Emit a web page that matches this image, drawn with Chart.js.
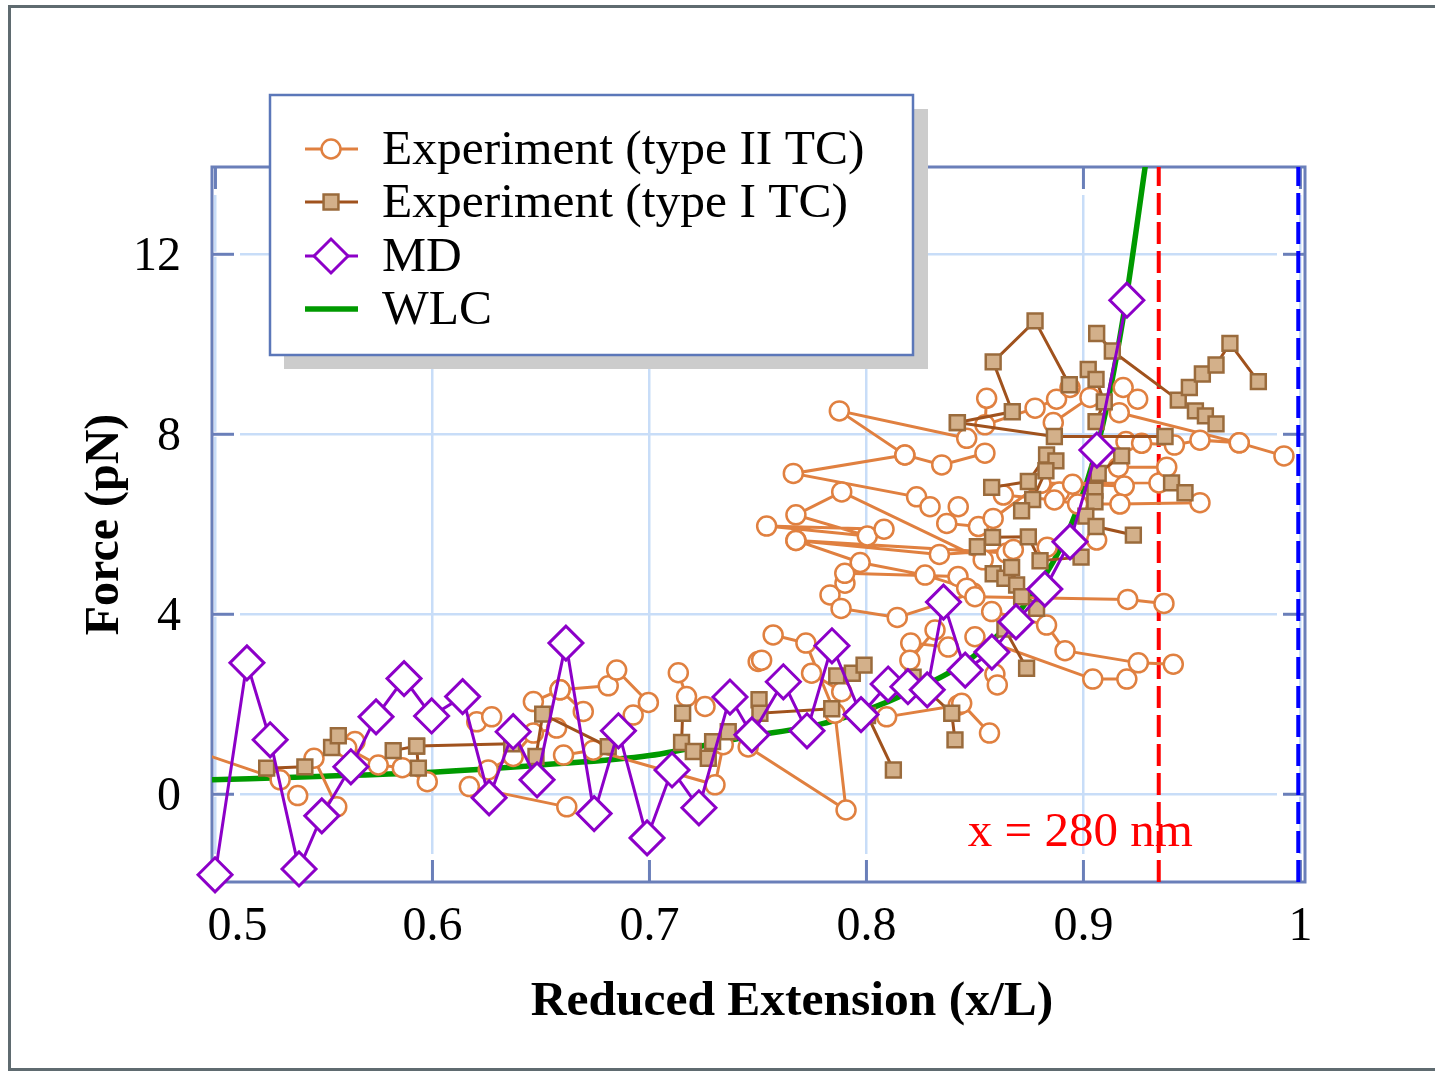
<!DOCTYPE html>
<html><head><meta charset="utf-8">
<script src="https://cdn.jsdelivr.net/npm/chart.js"></script>
<style>html,body{margin:0;padding:0;background:#fff;}canvas{display:block;}</style>
</head><body>
<canvas id="c" width="1435" height="1073"></canvas>
<script>
// ---------- DATA ----------
const seriesNames = ['Experiment (type II TC)', 'Experiment (type I TC)', 'MD', 'WLC'];
const xTicks = [0.5, 0.6, 0.7, 0.8, 0.9, 1.0];
const xTickLabels = ['0.5', '0.6', '0.7', '0.8', '0.9', '1'];
const yTicks = [0, 4, 8, 12];
const yTickLabels = ['0', '4', '8', '12'];
const xTitle = 'Reduced Extension (x/L)';
const yTitle = 'Force (pN)';
const markerText = 'x = 280 nm';
const markerX = 0.9347;     // red dashed line (x = 280 nm)
const contourX = 0.999;     // blue dashed line (x/L = 1)

// type II TC experiment traces (null = break between traces)
const expII = [
  [0.49,0.97],[0.5298,0.32], null,
  [0.5379,-0.03], null,
  [0.5454,0.8],[0.5559,-0.28], null,
  [0.5643,1.17],[0.5605,1.03],[0.575,0.65],[0.5861,0.59],[0.5976,0.28], null,
  [0.6204,1.61],[0.6273,1.72], null,
  [0.617,0.17],[0.6619,-0.28], null,
  [0.6257,0.54],[0.6372,0.84],[0.6465,1.36],[0.6572,1.47], null,
  [0.6465,2.06],[0.6588,2.32],[0.6695,1.84], null,
  [0.6588,2.32],[0.681,2.41], null,
  [0.6604,0.87],[0.6741,0.98],[0.7302,0.21],[0.734,1.1], null,
  [0.6849,2.76],[0.6995,2.04],[0.6925,1.76], null,
  [0.7133,2.7],[0.7171,2.17],[0.7256,1.95], null,
  [0.7501,2.95], null,
  [0.757,3.54],[0.7721,3.36],[0.7855,1.8], null,
  [0.7517,2.98], null,
  [0.7747,2.69],[0.7886,2.28], null,
  [0.7455,1.05],[0.7906,-0.35],[0.7855,1.8], null,
  [0.7832,4.43],[0.7901,4.69], null,
  [0.79,4.91],[0.8422,4.84], null,
  [0.7883,4.13],[0.8142,3.93],[0.8492,4.47], null,
  [0.8204,3.36],[0.8377,3.27], null,
  [0.82,2.98],[0.8316,3.65], null,
  [0.8093,1.72],[0.8423,1.98], null,
  [0.8462,7.91],[0.7875,8.52],[0.8177,7.54],[0.8347,7.32],[0.8546,7.58], null,
  [0.8177,7.54],[0.7663,7.13],[0.8231,6.61],[0.8293,6.39], null,
  [0.8423,6.39],[0.837,6.02],[0.8516,5.95], null,
  [0.8538,5.21],[0.7886,6.72],[0.7675,6.21],[0.8004,5.74],[0.754,5.96],[0.8081,5.89], null,
  [0.8646,5.36],[0.7675,5.64],[0.7971,5.15],[0.827,4.87],[0.8462,4.58], null,
  [0.7675,5.64],[0.8336,5.33],[0.8677,5.44], null,
  [0.8554,8.8],[0.8546,8.21],[0.8777,8.58],[0.8876,8.78],[0.8938,9.04], null,
  [0.8861,8.26],[0.903,8.82], null,
  [0.9183,9.04],[0.925,8.78], null,
  [0.9165,8.48],[0.9718,7.81],[0.9924,7.52], null,
  [0.9196,7.84],[0.9268,7.8],[0.9419,7.76],[0.9537,7.87],[0.9718,7.81], null,
  [0.8584,6.13],[0.8804,6.91],[0.9348,6.92],[0.9384,7.27],[0.9161,7.27], null,
  [0.8889,6.72],[0.895,6.89],[0.9188,6.85], null,
  [0.8631,6.65],[0.8866,6.54],[0.8973,6.45],[0.9168,6.45],[0.9537,6.48], null,
  [0.8833,5.49],[0.9061,5.65], null,
  [0.85,4.39],[0.9204,4.33],[0.9371,4.24], null,
  [0.8577,4.06],[0.883,3.76],[0.8915,3.19],[0.9253,2.92],[0.9414,2.89], null,
  [0.85,3.5],[0.9043,2.56],[0.92,2.56], null,
  [0.8592,2.67],[0.8603,2.43], null,
  [0.8439,2.02],[0.8567,1.36]
];

// type I TC experiment traces
const expI = [
  [0.5236,0.58],[0.5412,0.61], null,
  [0.5535,1.04],[0.5566,1.3], null,
  [0.5819,0.97],[0.5927,1.07],[0.6365,1.12], null,
  [0.5935,0.58],[0.5927,1.07], null,
  [0.6477,0.84],[0.6508,1.78],[0.681,1.06], null,
  [0.7153,1.8],[0.7148,1.15],[0.7202,0.95],[0.7271,0.8],[0.7291,1.17],[0.7363,1.39], null,
  [0.7505,2.1],[0.7509,1.8],[0.784,1.9], null,
  [0.7863,2.63],[0.7935,2.69],[0.7989,2.87], null,
  [0.8005,1.75],[0.8124,0.54], null,
  [0.8215,2.6],[0.8393,1.8],[0.8408,1.21], null,
  [0.8638,3.67],[0.8738,2.8], null,
  [0.8419,8.26],[0.8672,8.5],[0.8584,9.61],[0.8777,10.52],[0.8935,9.1], null,
  [0.8419,8.26],[0.8866,7.95],[0.9376,7.95], null,
  [0.9061,10.24],[0.9133,9.85],[0.9437,8.76],[0.9488,9.04],[0.9548,9.34],[0.9611,9.54],[0.9675,10.02],[0.9806,9.17], null,
  [0.9022,9.44],[0.9058,9.22],[0.9096,8.72],[0.9058,8.28], null,
  [0.9516,8.52],[0.9562,8.41],[0.9611,8.23], null,
  [0.8577,6.82],[0.8746,6.95],[0.883,7.54],[0.8873,7.41],[0.8827,7.19],[0.8766,6.55],[0.8715,6.3], null,
  [0.9176,7.52],[0.9068,7.13],[0.9053,6.76],[0.9053,6.5],[0.9011,6.18],[0.9058,5.95],[0.923,5.76], null,
  [0.9406,6.92],[0.9468,6.7], null,
  [0.8511,5.5],[0.8581,5.71],[0.8746,5.72],[0.88,5.19],[0.8989,5.27], null,
  [0.8584,4.9],[0.8638,4.8],[0.8669,5.04],[0.8692,4.65],[0.8715,4.39],[0.8784,4.13]
];

// MD simulation
const md = [
  [0.4998,-1.79],[0.5145,2.92],[0.5252,1.21],[0.5385,-1.66],[0.549,-0.48],[0.5624,0.61],
  [0.574,1.72],[0.5869,2.57],[0.5996,1.74],[0.6139,2.17],[0.6261,-0.08],[0.6372,1.39],
  [0.6482,0.32],[0.6615,3.36],[0.6745,-0.43],[0.6857,1.41],[0.6989,-0.97],[0.7104,0.54],
  [0.7228,-0.3],[0.7371,2.16],[0.7472,1.32],[0.7617,2.5],[0.7726,1.41],[0.7841,3.3],
  [0.7975,1.77],[0.81,2.45],[0.8191,2.39],[0.828,2.32],[0.8355,4.27],[0.8455,2.76],
  [0.8578,3.16],[0.8689,3.83],[0.8822,4.56],[0.8938,5.61],[0.9062,7.65],[0.92,10.98]
];

// WLC curve
const wlc = [
  [0.4984,0.32],[0.55,0.40],[0.6,0.49],[0.65,0.65],[0.7,0.86],[0.742,1.25],[0.784,1.62],
  [0.819,2.25],[0.849,3.05],[0.872,4.16],[0.894,5.95],[0.908,8.03],[0.918,10.5],[0.9295,14.3]
];

const xRange = [0.4984, 1.0021];
const yRange = [-1.95, 13.94];

// ---------- STYLE ----------
const FONT = "'Liberation Serif','Times New Roman',serif";
const C_ORANGE = '#e08040', C_BROWN_LINE = '#a0521d', C_TAN = '#d3b08a', C_TAN_EDGE = '#9a6b3c';
const C_PURPLE = '#8c00c8', C_GREEN = '#009a00', C_AXIS = '#6a7fb9', C_GRID = '#c8ddf8';

function toPts(arr){
  let lastX = xRange[0];
  return arr.map(p => { if (p) { lastX = p[0]; return {x:p[0], y:p[1]}; } return {x:lastX, y:null}; });
}

function drawMarker(ctx, style, x, y){
  ctx.beginPath();
  if (style === 'circle') {
    ctx.arc(x, y, 9.5, 0, Math.PI*2);
    ctx.fillStyle = '#fff'; ctx.strokeStyle = C_ORANGE; ctx.lineWidth = 2.5;
  } else if (style === 'rect') {
    const s = 10.5*Math.SQRT1_2;
    ctx.rect(x-s, y-s, 2*s, 2*s);
    ctx.fillStyle = C_TAN; ctx.strokeStyle = C_TAN_EDGE; ctx.lineWidth = 2.5;
  } else {
    const r = 17;
    ctx.moveTo(x-r,y); ctx.lineTo(x,y-r); ctx.lineTo(x+r,y); ctx.lineTo(x,y+r); ctx.closePath();
    ctx.fillStyle = '#fff'; ctx.strokeStyle = C_PURPLE; ctx.lineWidth = 3;
  }
  ctx.fill(); ctx.stroke();
}

const deco = {
  id: 'deco',
  beforeDraw(chart){
    const ctx = chart.ctx;
    // nudge the first x tick label inward, as in the original figure
    const items = chart.scales.x.getLabelItems(chart.chartArea);
    if (items && items[0] && !items[0]._nudged) { items[0].options.translation[0] += 22; items[0]._nudged = true; }
    ctx.save();
    ctx.strokeStyle = '#5f6b70'; ctx.lineWidth = 3;
    ctx.strokeRect(9.5, 6.5, 1440, 1063);
    ctx.restore();
  },
  beforeDatasetsDraw(chart){
    const ctx = chart.ctx, {left,right,top,bottom} = chart.chartArea;
    const xs = chart.scales.x, ys = chart.scales.y;
    const TL = 22, GAP = 6;
    const seg = (a,b,c,d) => { ctx.beginPath(); ctx.moveTo(a,b); ctx.lineTo(c,d); ctx.stroke(); };
    ctx.save();
    ctx.strokeStyle = '#fff'; ctx.lineWidth = 5;
    yTicks.forEach(v => { const p = ys.getPixelForValue(v); seg(left,p,left+TL+GAP,p); seg(right-TL-GAP,p,right,p); });
    xTicks.forEach(v => { const p = xs.getPixelForValue(v); if (p>left+3 && p<right-3){ seg(p,bottom,p,bottom-TL-GAP); seg(p,top,p,top+TL+GAP);} });
    ctx.strokeStyle = C_AXIS; ctx.lineWidth = 3;
    yTicks.forEach(v => { const p = ys.getPixelForValue(v); seg(left,p,left+TL,p); seg(right-TL,p,right,p); });
    xTicks.forEach(v => { const p = xs.getPixelForValue(v); if (p>left+3 && p<right-3){ seg(p,bottom,p,bottom-TL); seg(p,top,p,top+TL);} });
    ctx.strokeRect(left, top, right-left, bottom-top);
    ctx.restore();
  },
  afterDatasetsDraw(chart){
    const ctx = chart.ctx, xs = chart.scales.x;
    ctx.save();
    ctx.fillStyle = '#ff0000';
    ctx.font = '49px ' + FONT;
    ctx.textAlign = 'right'; ctx.textBaseline = 'alphabetic';
    ctx.fillText(markerText, xs.getPixelForValue(markerX) + 34, 846);
    ctx.fillStyle = '#000';
    ctx.font = 'bold 49.5px ' + FONT;
    ctx.textAlign = 'center';
    ctx.fillText(xTitle, 792, 1015);
    ctx.restore();
  },
  afterDraw(chart){
    const ctx = chart.ctx;
    ctx.save();
    ctx.fillStyle = '#cccccc';
    ctx.fillRect(284, 109, 644, 260);
    ctx.fillStyle = '#fff';
    ctx.fillRect(270, 95, 643, 260);
    ctx.strokeStyle = '#5b77b9'; ctx.lineWidth = 2.5;
    ctx.strokeRect(270, 95, 643, 260);
    const ys = [149, 202, 256, 309];
    const lineCols = [C_ORANGE, C_BROWN_LINE, C_PURPLE, C_GREEN];
    const styles = ['circle','rect','diamond',null];
    for (let i=0;i<4;i++){
      ctx.beginPath(); ctx.moveTo(305, ys[i]); ctx.lineTo(358, ys[i]);
      ctx.strokeStyle = lineCols[i]; ctx.lineWidth = i===3 ? 5.5 : 3; ctx.stroke();
      if (styles[i]) drawMarker(ctx, styles[i], 331, ys[i]);
      ctx.fillStyle = '#000'; ctx.font = '49.5px ' + FONT;
      ctx.textAlign = 'left'; ctx.textBaseline = 'alphabetic';
      ctx.fillText(seriesNames[i], 382, ys[i] + 15);
    }
    ctx.restore();
  }
};

new Chart(document.getElementById('c'), {
  type: 'scatter',
  data: {
    datasets: [
      { label: seriesNames[2], data: toPts(md), showLine: true, order: 0, clip: false,
        borderColor: C_PURPLE, borderWidth: 3, pointStyle: 'rectRot', pointRadius: 17,
        pointBackgroundColor: '#fff', pointBorderColor: C_PURPLE, pointBorderWidth: 3 },
      { label: seriesNames[1], data: toPts(expI), showLine: true, order: 1, spanGaps: false,
        borderColor: C_BROWN_LINE, borderWidth: 3, pointStyle: 'rect', pointRadius: 10.5,
        pointBackgroundColor: C_TAN, pointBorderColor: C_TAN_EDGE, pointBorderWidth: 2.5 },
      { label: seriesNames[0], data: toPts(expII), showLine: true, order: 2, spanGaps: false,
        borderColor: C_ORANGE, borderWidth: 3, pointStyle: 'circle', pointRadius: 9.5,
        pointBackgroundColor: '#fff', pointBorderColor: C_ORANGE, pointBorderWidth: 2.5 },
      { label: seriesNames[3], data: toPts(wlc), showLine: true, order: 3,
        borderColor: C_GREEN, borderWidth: 5.5, pointRadius: 0, cubicInterpolationMode: 'monotone' },
      { label: 'x = 280 nm line', data: [{x:markerX,y:yRange[0]},{x:markerX,y:yRange[1]}], showLine: true, order: 4,
        borderColor: '#ff0000', borderWidth: 4, borderDash: [22, 7], pointRadius: 0 },
      { label: 'x/L = 1 line', data: [{x:contourX,y:yRange[0]},{x:contourX,y:yRange[1]}], showLine: true, order: 4,
        borderColor: '#0000ff', borderWidth: 4, borderDash: [22, 7], pointRadius: 0 }
    ]
  },
  options: {
    responsive: false, animation: false, events: [],
    layout: { padding: { top: 167, right: 130, left: 0, bottom: 0 } },
    plugins: { legend: { display: false }, tooltip: { enabled: false } },
    scales: {
      x: {
        type: 'linear', position: 'bottom', min: xRange[0], max: xRange[1],
        afterFit: s => { s.height = 191; },
        afterBuildTicks: s => { s.ticks = xTicks.map(v => ({value: v})); },
        ticks: { callback: (v) => { const i = xTicks.findIndex(t => Math.abs(t-v) < 1e-9); return i>=0 ? xTickLabels[i] : ''; },
                 font: { family: FONT, size: 48 }, color: '#000', padding: 17, maxRotation: 0, autoSkip: false },
        grid: { color: C_GRID, lineWidth: 2.5, drawTicks: false },
        border: { display: false }
      },
      y: {
        type: 'linear', position: 'left', min: yRange[0], max: yRange[1],
        afterFit: s => { s.width = 212; },
        afterBuildTicks: s => { s.ticks = yTicks.map(v => ({value: v})); },
        ticks: { callback: (v) => { const i = yTicks.indexOf(v); return i>=0 ? yTickLabels[i] : ''; },
                 font: { family: FONT, size: 48 }, color: '#000', padding: 31, labelOffset: 3, autoSkip: false },
        grid: { color: C_GRID, lineWidth: 2.5, drawTicks: false },
        border: { display: false },
        title: { display: true, text: yTitle, color: '#000', font: { family: FONT, size: 48, weight: 'bold' }, padding: { top: 77, bottom: 0 } }
      }
    }
  },
  plugins: [deco]
});
</script>
</body></html>
